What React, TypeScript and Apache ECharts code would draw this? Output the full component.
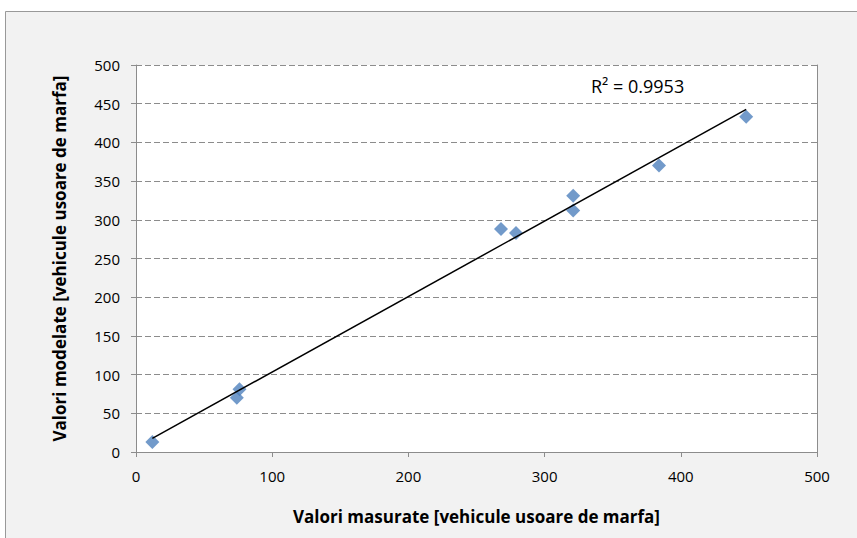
import React, { useEffect, useRef } from "react";
import * as echarts from "echarts";

const measured: number[] = [12, 74, 76, 268, 279, 321, 321, 384, 448];
const modeled: number[] = [13, 70, 81, 288, 283, 331, 312, 370, 433];
const xTitle = "Valori masurate [vehicule usoare de marfa]";
const yTitle = "Valori modelate [vehicule usoare de marfa]";
const r2Label = "R² = 0.9953";

function regression(xs: number[], ys: number[]) {
  const n = xs.length;
  const mx = xs.reduce((a, b) => a + b, 0) / n;
  const my = ys.reduce((a, b) => a + b, 0) / n;
  let sxy = 0;
  let sxx = 0;
  for (let i = 0; i < n; i++) {
    sxy += (xs[i] - mx) * (ys[i] - my);
    sxx += (xs[i] - mx) * (xs[i] - mx);
  }
  const slope = sxy / sxx;
  return { slope, intercept: my - slope * mx };
}

const FONT = "'Open Sans', 'Noto Sans', sans-serif";

export default function App() {
  const ref = useRef<HTMLDivElement>(null);
  useEffect(() => {
    if (!ref.current) return;
    const chart = echarts.init(ref.current, undefined, { renderer: "svg" });
    const { slope, intercept } = regression(measured, modeled);
    const x0 = Math.min(...measured);
    const x1 = Math.max(...measured);
    const points = measured.map((x, i) => [x, modeled[i]]);
    const axisLineColor = "#8c8c8c";
    chart.setOption({
      animation: false,
      backgroundColor: "#ffffff",
      graphic: [
        {
          type: "rect",
          z: -10,
          silent: true,
          shape: { x: 5.5, y: 11.5, width: 900, height: 600 },
          style: { fill: "#f2f2f2", stroke: "#999999", lineWidth: 1 },
        },
        {
          type: "text",
          left: 591,
          top: 77,
          z: 10,
          style: { text: r2Label, fontSize: 18, fontFamily: FONT, fill: "#000" },
        },
      ],
      grid: {
        left: 136,
        right: 40,
        top: 65,
        bottom: 86,
        show: true,
        backgroundColor: "#ffffff",
        borderWidth: 0,
      },
      xAxis: {
        type: "value",
        min: 0,
        max: 500,
        interval: 100,
        name: xTitle,
        nameLocation: "middle",
        nameGap: 56,
        nameTextStyle: { fontSize: 17, fontWeight: "bold", fontFamily: FONT, color: "#000" },
        axisLine: { show: true, onZero: false, lineStyle: { color: axisLineColor, width: 1 } },
        axisTick: { show: true, inside: false, length: 5, lineStyle: { color: axisLineColor } },
        axisLabel: { fontSize: 15, fontFamily: FONT, color: "#000", margin: 16 },
        splitLine: { show: false },
      },
      yAxis: [
        {
          type: "value",
          min: 0,
          max: 500,
          interval: 50,
          name: yTitle,
          nameLocation: "middle",
          nameGap: 68,
          nameRotate: 90,
          nameTextStyle: { fontSize: 17, fontWeight: "bold", fontFamily: FONT, color: "#000" },
          axisLine: { show: true, onZero: false, lineStyle: { color: axisLineColor, width: 1 } },
          axisTick: { show: true, inside: false, length: 5, lineStyle: { color: axisLineColor } },
          axisLabel: { fontSize: 15, fontFamily: FONT, color: "#000", margin: 16 },
          splitLine: { show: true, lineStyle: { color: "#8c8c8c", type: [6, 3], width: 1 } },
        },
        {
          type: "value",
          min: 0,
          max: 500,
          position: "right",
          axisLine: { show: true, onZero: false, lineStyle: { color: axisLineColor, width: 1 } },
          axisTick: { show: false },
          axisLabel: { show: false },
          splitLine: { show: false },
        },
      ],
      series: [
        {
          type: "scatter",
          data: points,
          symbol: "diamond",
          symbolSize: [14, 14],
          itemStyle: { color: "#4f81bd" },
          z: 3,
        },
        {
          type: "line",
          data: [
            [x0, slope * x0 + intercept],
            [x1, slope * x1 + intercept],
          ],
          symbol: "none",
          lineStyle: { color: "#000", width: 1.5 },
          z: 4,
        },
      ],
    });
    return () => chart.dispose();
  }, []);
  return (
    <div
      ref={ref}
      style={{ position: "absolute", left: 0, top: 0, width: 857, height: 538 }}
    />
  );
}
